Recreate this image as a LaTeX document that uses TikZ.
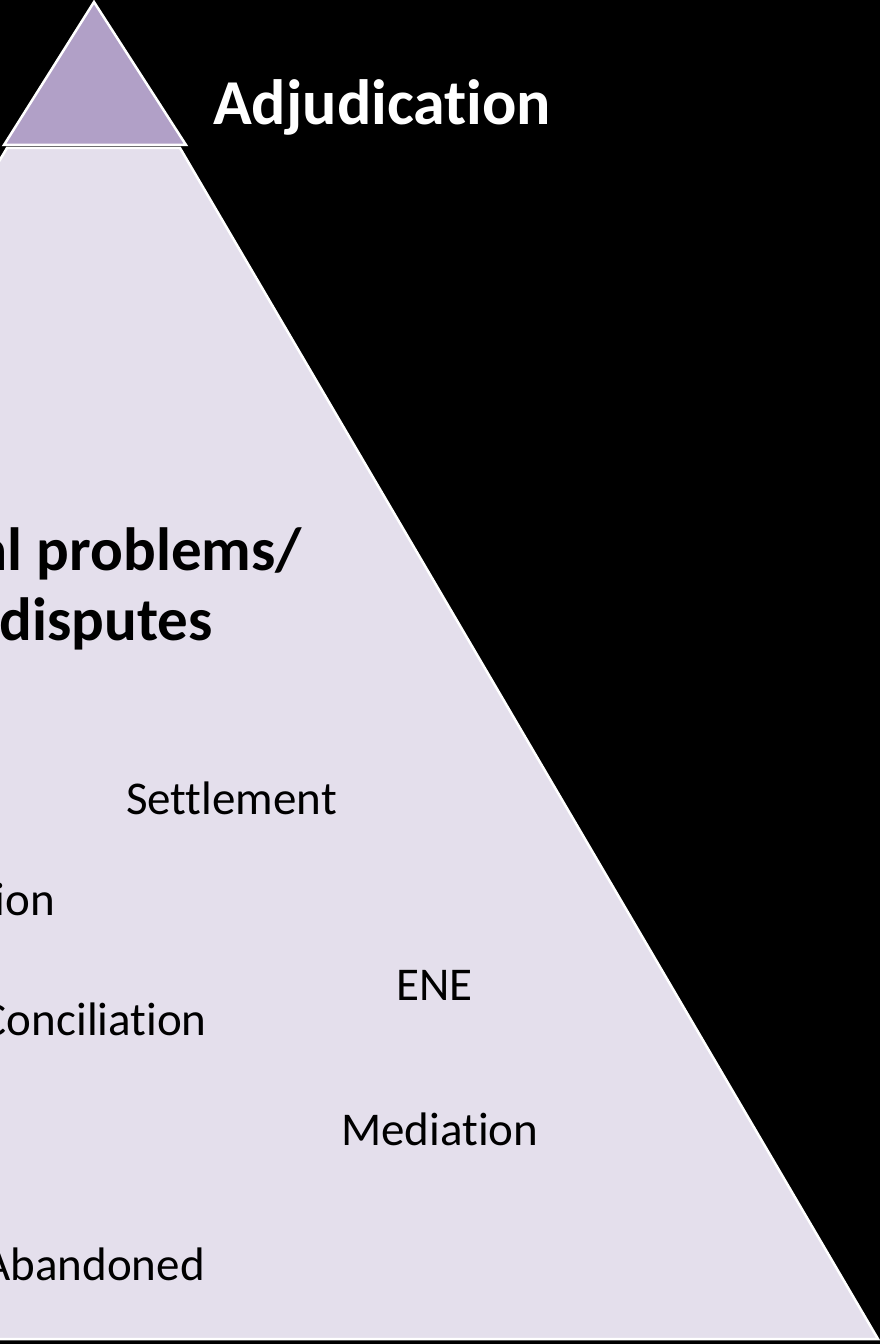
\documentclass[tikz,border=0pt]{standalone}
\usepackage{fontspec}
\setmainfont{Carlito}[Ligatures=NoCommon]
\definecolor{tiertop}{HTML}{B1A0C7}
\definecolor{tierlow}{HTML}{E4DFEC}
\begin{document}
\begin{tikzpicture}[x=1bp,y=-1bp,
  tieredge/.style={draw=white, line width=2.5bp, line join=miter},
  lbl/.style={inner sep=0pt, font=\fontsize{47bp}{56bp}\selectfont, text=black},
  boldlbl/.style={inner sep=0pt, font=\fontsize{61bp}{73bp}\selectfont\bfseries, text=black},
  toplbl/.style={inner sep=0pt, font=\fontsize{64bp}{77bp}\selectfont\bfseries, text=white}]
\useasboundingbox (0,0) rectangle (880,1344);
\fill[black] (0,0) rectangle (880,1344);
\begin{scope}
\clip (0,0) rectangle (880,1344);
\filldraw[tieredge, fill=tierlow] (7,148) -- (180,148) -- (878,1339) -- (-700,1339) -- cycle;
\filldraw[tieredge, fill=tiertop] (94,2) -- (186,145) -- (4,145) -- cycle;
\node[toplbl, anchor=base west] (adj) at (213,125) {Adjudication};
\node[boldlbl, anchor=base east] (prob) at (302,570) {al problems/};
\node[boldlbl, anchor=base east] (disp) at (213,640) {disputes};
\node[lbl, anchor=base east] (settle) at (337,814) {Settlement};
\node[lbl, anchor=base east] (arb) at (55,915) {ion};
\node[lbl, anchor=base west] (ene) at (396,1000) {ENE};
\node[lbl, anchor=base east] (conc) at (207,1035) {Conciliation};
\node[lbl, anchor=base west] (med) at (341,1145) {Mediation};
\node[lbl, anchor=base east] (aband) at (205,1280) {Abandoned};
\end{scope}
\end{tikzpicture}
\end{document}
